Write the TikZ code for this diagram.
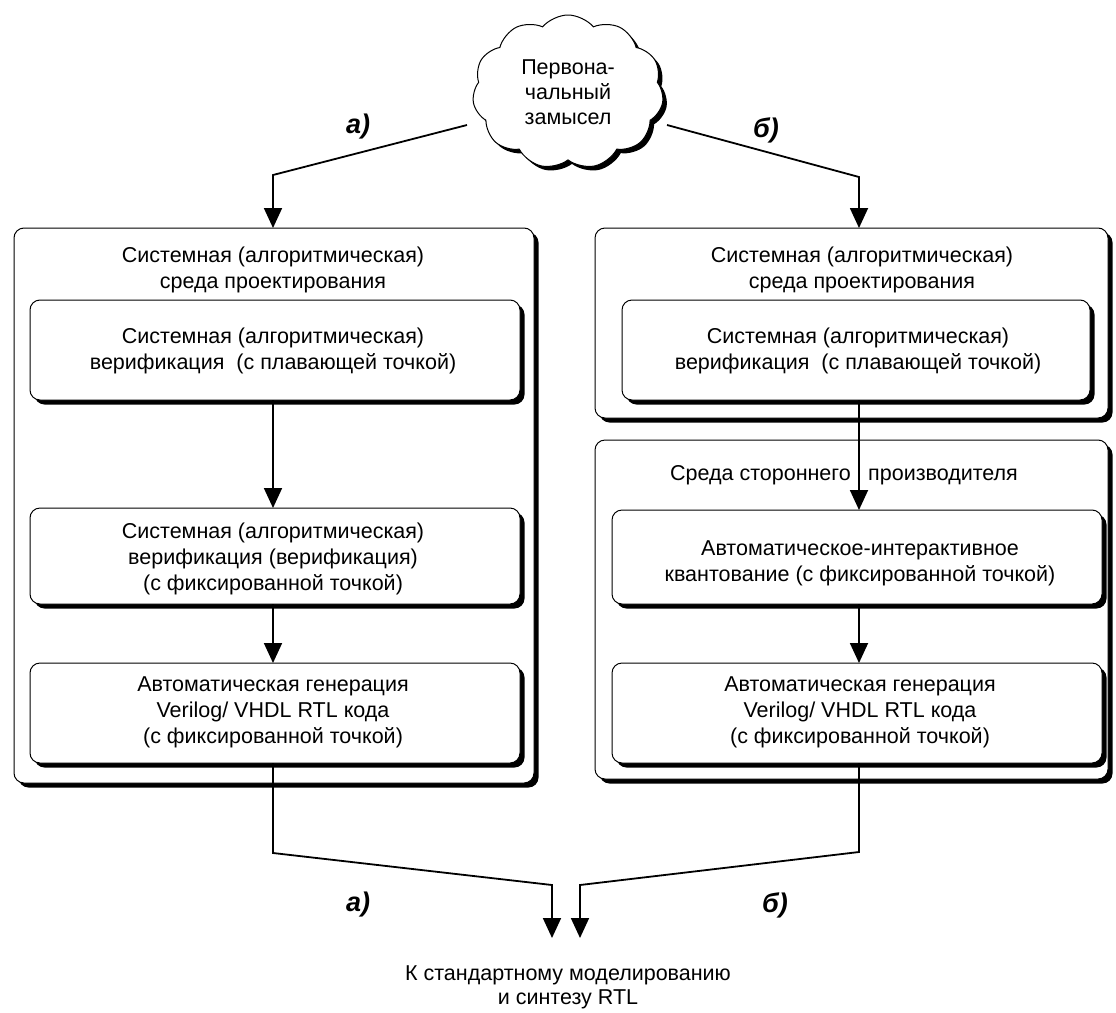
\documentclass[tikz,border=0pt]{standalone}
\usepackage{fontspec}
\setmainfont{Liberation Sans}
\usetikzlibrary{shapes.symbols,shadows,arrows.meta}

\begin{document}
\begin{tikzpicture}[x=1pt,y=-1pt,
  box/.style={draw=black, line width=1pt, fill=white, rounded corners=10pt, outer sep=0pt, inner sep=0pt,
    drop shadow={shadow xshift=4.5pt, shadow yshift=-4.5pt, opacity=1, fill=black}},
  cloudsty/.style={cloud, cloud puffs=11, cloud puff arc=100, draw=black, line width=1pt, fill=white,
    minimum width=191pt, minimum height=154pt, inner sep=0pt, outer sep=0pt, align=center,
    font=\fontsize{21.5}{25}\selectfont,
    drop shadow={shadow xshift=4pt, shadow yshift=-4pt, opacity=1, fill=black}},
  txt/.style={align=center, font=\fontsize{21.5}{26}\selectfont, inner sep=0pt},
  lbl/.style={font=\fontsize{27}{32}\selectfont\bfseries\itshape, inner sep=0pt},
  arr/.style={line width=1.8pt, -{Triangle[length=20pt,width=18pt]}}
]
\useasboundingbox (0,0) rectangle (1116,1012);
\fill[white] (0,0) rectangle (1116,1012);

% columns
\coordinate (xL) at (273,0);
\coordinate (xR) at (859,0);

% left column
\node[box, minimum width=520pt, minimum height=555pt] (LO) at (274,505.5) {};
\node[box, minimum width=490pt, minimum height=100pt] (L1) at (275,350) {};
\node[box, minimum width=490pt, minimum height=96pt] (L2) at (275,556) {};
\node[box, minimum width=490pt, minimum height=100pt] (L3) at (275,713) {};

% right column
\node[box, minimum width=513pt, minimum height=190pt] (RO1) at (851.5,323) {};
\node[box, minimum width=468pt, minimum height=100pt] (R1) at (856,350) {};
\node[box, minimum width=513pt, minimum height=339pt] (RO2) at (851.5,609.5) {};
\node[box, minimum width=490pt, minimum height=94pt] (R2) at (857,557) {};
\node[box, minimum width=490pt, minimum height=100pt] (R3) at (857,713) {};

% cloud
\node[cloudsty] (C) at (568,92) {Первона-\\чальный\\замысел};

% texts
\node[txt] (tLO) at (273,270) {Системная (алгоритмическая)\\среда проектирования};
\node[txt] (tL1) at (273,351) {Системная (алгоритмическая)\\верификация\ \ (с плавающей точкой)};
\node[txt] (tL2) at (273,559) {Системная (алгоритмическая)\\верификация (верификация)\\(с фиксированной точкой)};
\node[txt] (tL3) at (273,712) {Автоматическая генерация\\Verilog/ VHDL RTL кода\\(с фиксированной точкой)};

\node[txt] (tRO1) at (862,270) {Системная (алгоритмическая)\\среда проектирования};
\node[txt] (tR1) at (858,351) {Системная (алгоритмическая)\\верификация\ \ (с плавающей точкой)};
\node[txt, anchor=base east] (tRO2a) at (851,480) {Среда стороннего};
\node[txt, anchor=base west] (tRO2b) at (868,480) {производителя};
\node[txt] (tR2) at (860,563) {Автоматическое-интерактивное\\квантование (с фиксированной точкой)};
\node[txt] (tR3) at (860,712) {Автоматическая генерация\\Verilog/ VHDL RTL кода\\(с фиксированной точкой)};

\node[txt, font=\fontsize{21.5}{24}\selectfont] (out) at (568,987) {К стандартному моделированию\\и синтезу RTL};

% labels
\node[lbl] (la1) at (358,127) {а)};
\node[lbl] (lb1) at (766,130) {б)};
\node[lbl] (la2) at (358,905) {а)};
\node[lbl] (lb2) at (775,905) {б)};

% connector points
\coordinate (cL) at (467,125);
\coordinate (kL) at (273,175);
\coordinate (cR) at (667,125);
\coordinate (kR) at (859,177);
\coordinate (bL1) at (273,853);
\coordinate (bL2) at (552,885);
\coordinate (eL) at (552,938);
\coordinate (bR1) at (859,852);
\coordinate (bR2) at (580,885);
\coordinate (eR) at (580,938);

% connectors
\draw[arr] (cL) -- (kL) -- (kL |- LO.north);
\draw[arr] (cR) -- (kR) -- (kR |- RO1.north);
\draw[arr] (xL |- L1.south) -- (xL |- L2.north);
\draw[arr] (xL |- L2.south) -- (xL |- L3.north);
\draw[arr] (xR |- R1.south) -- (xR |- R2.north);
\draw[arr] (xR |- R2.south) -- (xR |- R3.north);
\draw[arr] (xL |- L3.south) -- (bL1) -- (bL2) -- (eL);
\draw[arr] (xR |- R3.south) -- (bR1) -- (bR2) -- (eR);
\end{tikzpicture}
\end{document}
